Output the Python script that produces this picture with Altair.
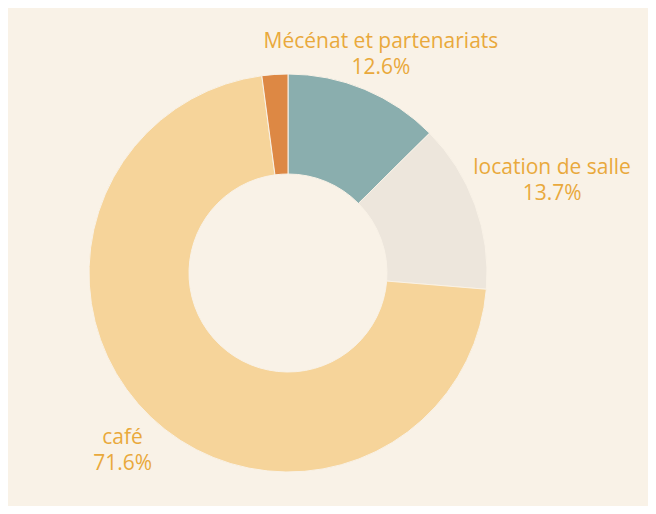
import altair as alt
import pandas as pd

# Data
categories = ["Mécénat et partenariats", "location de salle", "café", "autres"]
shares = [12.6, 13.7, 71.6, 2.1]
show_label = [True, True, True, False]

# Styles
colors = ["#8aaeae", "#ede6dc", "#f6d49a", "#dd8844"]
label_radius = [241, 281, 240, 0]
BG = "#f9f2e7"
TEXT = "#e9a93c"

rows = []
for i, (c, s, sh) in enumerate(zip(categories, shares, show_label)):
    rows.append({
        "idx": i,
        "category": c,
        "share": s,
        "label": f"{c}\n{s}%" if sh else "",
        "lr": label_radius[i],
    })
df = pd.DataFrame(rows)

theta_scale = alt.Scale(domain=[0, 100])

arcs = alt.Chart(df).mark_arc(outerRadius=199, innerRadius=99, stroke=BG, strokeWidth=1).encode(
    theta=alt.Theta("share:Q", stack=True, scale=theta_scale),
    order=alt.Order("idx:Q"),
    color=alt.Color("category:N", scale=alt.Scale(domain=categories, range=colors), legend=None),
    x=alt.value(280),
    y=alt.value(265),
)

labels = alt.Chart(df).transform_window(
    cum="sum(share)", sort=[alt.SortField("idx")], frame=[None, 0]
).transform_calculate(
    mid="datum.cum - datum.share / 2"
).transform_filter(
    "datum.label != ''"
).mark_text(
    lineBreak="\n", align="center", baseline="middle", fontSize=21,
    font="Open Sans", color=TEXT, lineHeight=26, dy=-9
).encode(
    theta=alt.Theta("mid:Q", stack=None, scale=theta_scale),
    radius=alt.Radius("lr:Q", scale=None),
    text="label:N",
    x=alt.value(280),
    y=alt.value(265),
)

chart = (arcs + labels).properties(
    width=640, height=498, padding=0, autosize="none", background=BG
).configure_view(stroke=None)

chart.save("out.html", embed_options={"renderer": "svg", "actions": False})
